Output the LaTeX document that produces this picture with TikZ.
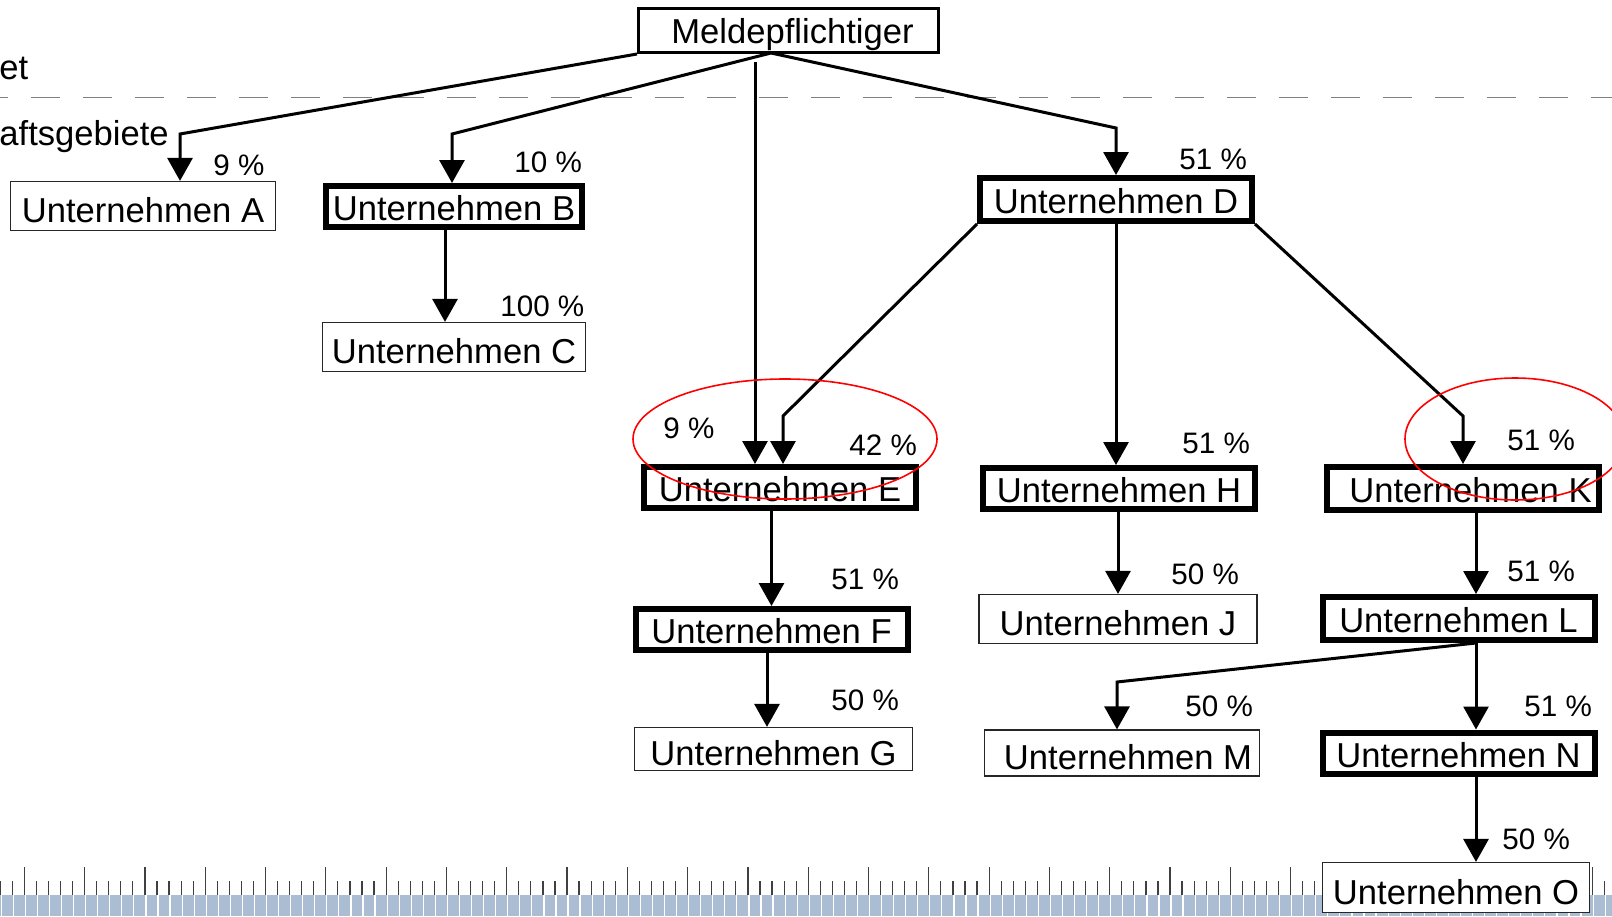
\documentclass[tikz,border=0pt]{standalone}
\usepackage{fontspec}
\setmainfont{Liberation Sans}
\usetikzlibrary{arrows.meta}
\definecolor{rulerblue}{RGB}{170,189,211}

\begin{document}
\begin{tikzpicture}[x=0.5pt, y=-0.5pt,
    firm/.style={draw=black!85, line width=0.6pt, fill=white, inner sep=0pt,
        minimum width=139pt, minimum height=23pt, text height=16.5pt, text depth=0pt,
        font=\fontsize{17.3}{20}\selectfont},
    major/.style={firm, draw=black, line width=3pt, minimum width=136pt, minimum height=20.5pt,
        text height=14pt},
    share/.style={anchor=base west, inner sep=0pt, font=\fontsize{14.8}{17}\selectfont},
    region/.style={anchor=base west, inner sep=0pt, font=\fontsize{17.3}{20}\selectfont},
    link/.style={line width=1.5pt, -{Triangle[width=12.5pt, length=11.5pt]}},
    ring/.style={red, line width=0.8pt}]
    \fill[white] (0,0) rectangle (1612,916);
    \useasboundingbox (0,0) rectangle (1612,916);

    \fill[rulerblue] (0,895) rectangle (1612,916);
    \foreach \k in {0,...,133}
        \draw[white, line width=0.6pt] ({1.2+12.06*\k},895) -- ++(0,21);
    \foreach \k in {0,...,133}
        \draw[black!75, line width=0.6pt] ({0.2+12.06*\k},881) -- ++(0,14);
    \foreach \k in {0,...,26}
        \draw[black!75, line width=0.6pt] ({24.3+60.3*\k},867) -- ++(0,28);

    \draw[gray, line width=0.8pt, dash pattern=on 14.5pt off 11.5pt, dash phase=10.5pt] (0,97.5) -- (1612,97.5);
    \node[region] (home) at (-1,79) {et};
    \node[region] (abroad) at (-1,145) {aftsgebiete};

    \node[draw, line width=1.5pt, minimum width=150pt, minimum height=22pt, inner sep=0pt,
        text height=12.5pt, text depth=0pt, font=\fontsize{17.3}{20}\selectfont]
        (melde) at (788.5,30.5) {\hspace{4pt}Meldepflichtiger};

    \node[firm, minimum width=132.5pt, minimum height=24.5pt] (A) at (143,206) {Unternehmen A};
    \node[major, minimum width=128pt] (B) at (454,206.5) {Unternehmen B};
    \node[firm, minimum width=131.5pt, minimum height=24.5pt] (C) at (454,347) {Unternehmen C};
    \node[major, minimum height=21.5pt] (D) at (1116,199.5) {Unternehmen D};
    \node[major] (E) at (780,487.5) {Unternehmen E};
    \node[major] (F) at (771.5,629.5) {Unternehmen F};
    \node[firm, minimum height=21.5pt] (G) at (773.5,749) {Unternehmen G};
    \node[major] (H) at (1119,488.5) {Unternehmen H};
    \node[firm, minimum height=24.5pt] (J) at (1118,619) {Unternehmen J};
    \node[major, minimum height=21.5pt] (K) at (1462.5,488.5) {\hspace{8pt}Unternehmen K};
    \node[major, minimum height=21.5pt] (L) at (1458.5,618.5) {Unternehmen L};
    \node[firm, minimum width=137.5pt] (M) at (1122,753) {\hspace{6pt}Unternehmen M};
    \node[major] (N) at (1458.5,753) {Unternehmen N};
    \node[firm, minimum width=133.5pt, minimum height=25pt] (O) at (1456,887.5) {Unternehmen O};

    \coordinate (mfoot) at (771,53);
    \coordinate (estem) at (755,62);
    \coordinate (rail) at (1476,0);

    \draw[link] (melde.south west) -- (180,134) -- (180,134 |- A.north);
    \draw[link] (mfoot) -- (452,134) -- (452,134 |- B.north);
    \draw[link] (mfoot) -- (1116,128) -- (D.north);
    \draw[link] (estem) -- (estem |- E.north);
    \draw[link] (D.south west) -- (783,416) -- (783,416 |- E.north);
    \draw[link] (D.south) -- (D.south |- H.north);
    \draw[link] (D.south east) -- (1463,416) -- (1463,416 |- K.north);
    \draw[link] (B.south -| 445,0) -- (C.north -| 445,0);
    \draw[link] (E.south -| F.north) -- (F.north);
    \draw[link] (F.south -| 767,0) -- (G.north -| 767,0);
    \draw[link] (H.south -| J.north) -- (J.north);
    \draw[link] (K.south -| rail) -- (L.north -| rail);
    \draw[link] (L.south -| rail) -- (1117,682) -- (1117,682 |- M.north);
    \draw[link] (L.south -| rail) -- (N.north -| rail);
    \draw[link] (N.south -| rail) -- (O.north -| rail);

    \node[share] (pA) at (213,175) {9 \%};
    \node[share] (pB) at (514,172) {10 \%};
    \node[share] (pD) at (1179,169) {51 \%};
    \node[share] (pC) at (500,316) {100 \%};
    \node[share] (pEdirect) at (663,438) {9 \%};
    \node[share] (pE) at (849,455) {42 \%};
    \node[share] (pH) at (1182,453) {51 \%};
    \node[share] (pK) at (1507,450) {51 \%};
    \node[share] (pF) at (831,589) {51 \%};
    \node[share] (pG) at (831,710) {50 \%};
    \node[share] (pJ) at (1171,584) {50 \%};
    \node[share] (pL) at (1507,581) {51 \%};
    \node[share] (pM) at (1185,716) {50 \%};
    \node[share] (pN) at (1524,716) {51 \%};
    \node[share] (pO) at (1502,849) {50 \%};

    \draw[ring] (785,439) ellipse [x radius=76pt, y radius=30pt];
    \draw[ring] (1515,439) ellipse [x radius=55pt, y radius=30.5pt];
\end{tikzpicture}
\end{document}
